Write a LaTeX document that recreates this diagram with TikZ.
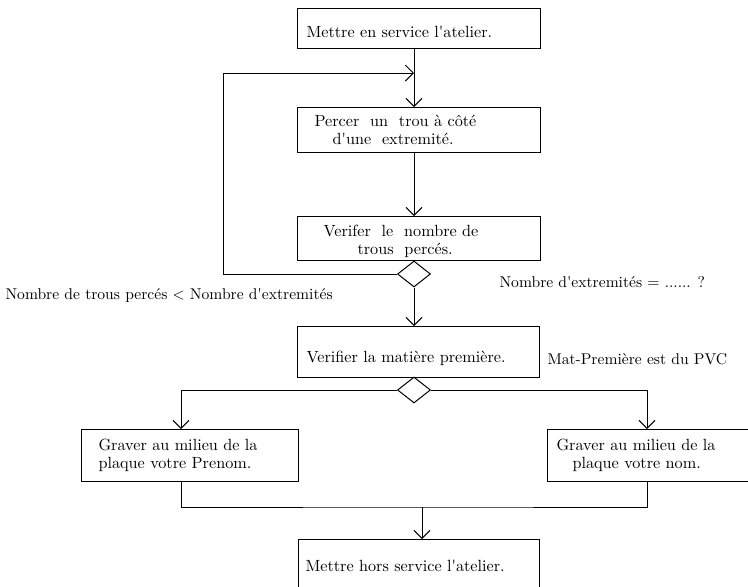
\documentclass[tikz,border=0pt]{standalone}
\usepackage{fontspec}
\setmainfont{lmroman10-regular.otf}[Ligatures=TeXOff]
\usetikzlibrary{arrows.meta,shapes.geometric}

\newcommand{\fs}{\fontsize{16.2}{17.5}\selectfont}
\newcommand{\fl}{\fontsize{15.6}{17}\selectfont}

\begin{document}
\begin{tikzpicture}[x=1pt,y=-1pt,line width=1pt,
	>={Straight Barb[length=8pt,width=16pt]},
	etape/.style={draw,rectangle,anchor=north west,align=left,font=\fs,inner ysep=0pt},
	test/.style={draw,diamond,minimum width=33pt,minimum height=26pt,inner sep=0pt},
	texte/.style={anchor=west,inner sep=0pt,font=\fl}]
		\useasboundingbox (0,0) rectangle (748,587);
		\node[etape,text width=225pt,inner xsep=9pt,minimum height=40pt,text height=19pt] (debut) at (297,8) {Mettre en service l'atelier.};
		\node[etape,text width=209pt,inner xsep=17pt,minimum height=45pt] (percer) at (297,107) {Percer~ un~ trou à côté\\\hspace*{18pt}d'une~ extremité.};
		\node[etape,text width=191pt,inner xsep=26pt,minimum height=44pt,text height=17pt] (verifier) at (297,216) {Verifer~ le~ nombre de\\\hspace*{34pt}trous~ percés.};
		\node[test] (test1) at (414,274) {};
		\node[etape,text width=224pt,inner xsep=9pt,minimum height=51pt,text height=25pt] (matiere) at (297,326) {Verifier la matière première.};
		\node[test] (test2) at (414,390) {};
		\node[etape,text width=183pt,inner xsep=17pt,minimum height=52pt] (prenom) at (81,429) {Graver au milieu de la\\plaque votre Prenom.};
		\node[etape,text width=199pt,inner xsep=9pt,minimum height=52pt] (nom) at (547,429) {Graver au milieu de la\\\hspace*{16pt}plaque votre nom.};
		\node[etape,text width=227pt,inner xsep=7pt,minimum height=52pt] (fin) at (298,539) {Mettre hors service l'atelier.};

		\coordinate (retour) at (414,73);
		\coordinate (coin) at (223,73);
		\coordinate (gauche) at (181,429);
		\coordinate (droite) at (647,429);
		\coordinate (jonction) at (422,507);

		\draw[->] (debut.south -| test1) -- (percer.north -| test1);
		\draw[->] (percer.south -| test1) -- (verifier.north -| test1);
		\draw[->] (test1.west) -| (coin) -- (retour);
		\draw[->] (test1.south) -- (matiere.north -| test1);
		\draw[->] (test2.west) -| (gauche);
		\draw[->] (test2.east) -| (droite);
		\draw (prenom.south -| gauche) |- (jonction) -| (nom.south -| droite);
		\draw[->] (jonction) -- (fin.north -| jonction);

		\node[texte] (boucle) at (5,296) {Nombre de trous percés < Nombre d'extremités};
		\node[texte] (sortie) at (499,282) {Nombre d'extremités = ...... ?};
		\node[texte] (pvc) at (547,359) {Mat-Première est du PVC};
	\end{tikzpicture}
\end{document}
